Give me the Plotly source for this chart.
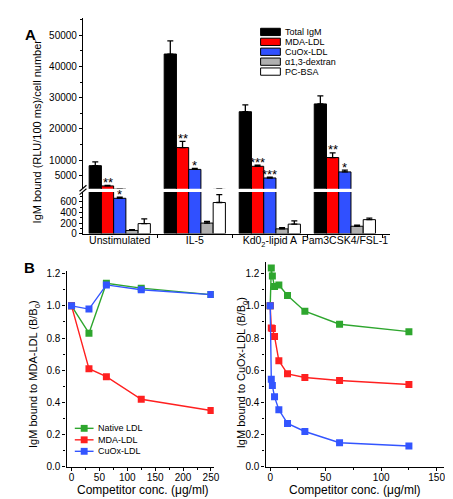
import plotly.graph_objects as go

W, H = 453, 499
FONT = "Liberation Sans, Arial, sans-serif"

# ---- panel A data (broken y axis) ----
categories = ["Unstimulated", "IL-5", "Kd0<sub>2</sub>-lipid A", "Pam3CSK4/FSL-1"]
series_names = ["Total IgM", "MDA-LDL", "CuOx-LDL", "α1,3-dextran", "PC-BSA"]
total_igm = [8200, 44000, 25500, 28000]
total_igm_err = [1200, 4200, 2200, 2600]
mda_ldl = [1700, 14000, 8000, 10800]
mda_ldl_err = [150, 2000, 400, 1500]
cuox_ldl = [670, 7000, 4250, 6200]
cuox_ldl_err = [20, 300, 250, 550]
dextran = [60, 200, 90, 140]
dextran_err = [15, 30, 25, 20]
pc_bsa = [190, 590, 180, 265]
pc_bsa_err = [90, 150, 60, 30]
sig_mda = ["**", "**", "***", "**"]
sig_cuox = ["*", "*", "***", "*"]

# ---- panel B data ----
conc_mda_assay = [0, 31.25, 62.5, 125, 250]
native_mda_assay = [1.0, 0.83, 1.14, 1.11, 1.07]
mda_mda_assay = [1.0, 0.61, 0.56, 0.42, 0.35]
cuox_mda_assay = [1.0, 0.98, 1.13, 1.10, 1.07]

conc_cuox_assay = [0, 0.98, 1.95, 3.9, 7.8, 15.6, 31.25, 62.5, 125]
native_cuox_assay = [1.0, 1.235, 1.185, 1.12, 1.13, 1.065, 0.967, 0.886, 0.84]
mda_cuox_assay = [1.0, 0.863, 0.86, 0.81, 0.66, 0.578, 0.555, 0.537, 0.512]
cuox_cuox_assay = [1.0, 0.545, 0.505, 0.435, 0.355, 0.27, 0.22, 0.15, 0.13]
line_names = ["Native LDL", "MDA-LDL", "CuOx-LDL"]

bar_colors = ["black", "#ff0000", "#3050ff", "#b0b0b0", "white"]
line_colors = ["#2ea62e", "#ff2020", "#3355ff"]

LOW_MAX = 790
HIGH_MIN = 800
BARGAP = 0.184


def px(x):
    return x / W


def py(y):
    return 1 - y / H


fig = go.Figure()

values = [total_igm, mda_ldl, cuox_ldl, dextran, pc_bsa]
errors = [total_igm_err, mda_ldl_err, cuox_ldl_err, dextran_err, pc_bsa_err]
for name, vals, errs, col in zip(series_names, values, errors, bar_colors):
    for yax in ["y", "y2"]:
        fig.add_trace(go.Bar(
            x=categories, y=vals, name=name, xaxis="x", yaxis=yax,
            marker=dict(color=col, line=dict(color="black", width=1)),
            error_y=dict(type="data", array=errs, arrayminus=[0] * len(errs),
                         symmetric=False, color="black", thickness=1.3, width=3),
            showlegend=False,
        ))

# significance stars
bar_w = (1 - BARGAP) / len(series_names)
for i in range(len(categories)):
    for k, vals, errs, sig in [(1, mda_ldl, mda_ldl_err, sig_mda), (2, cuox_ldl, cuox_ldl_err, sig_cuox)]:
        top = vals[i] + errs[i]
        fig.add_annotation(
            x=i + (k - 2) * bar_w, y=top, xref="x",
            yref="y2" if top > HIGH_MIN else "y",
            text=sig[i], showarrow=False, yanchor="middle", yshift=3,
            font=dict(size=13, color="black", family=FONT),
        )

# panel B lines
for name, ys, col in zip(line_names, [native_mda_assay, mda_mda_assay, cuox_mda_assay], line_colors):
    fig.add_trace(go.Scatter(
        x=conc_mda_assay, y=ys, name=name, xaxis="x2", yaxis="y3",
        mode="lines+markers", line=dict(color=col, width=1.4),
        marker=dict(symbol="square", size=7, color=col), showlegend=False,
    ))
for name, ys, col in zip(line_names, [native_cuox_assay, mda_cuox_assay, cuox_cuox_assay], line_colors):
    fig.add_trace(go.Scatter(
        x=conc_cuox_assay, y=ys, name=name, xaxis="x3", yaxis="y4",
        mode="lines+markers", line=dict(color=col, width=1.4),
        marker=dict(symbol="square", size=7, color=col), showlegend=False,
    ))

axis_style = dict(showline=True, linecolor="black", linewidth=1.2, ticks="outside",
                  ticklen=3, tickwidth=1.2, tickcolor="black", showgrid=False,
                  zeroline=False, tickfont=dict(size=10, color="black", family=FONT))
minor_style = dict(ticks="outside", ticklen=2, tickwidth=1, tickcolor="black", showgrid=False)

fig.update_layout(
    width=W, height=H, margin=dict(l=0, r=0, t=0, b=0),
    paper_bgcolor="white", plot_bgcolor="white",
    barmode="group", bargap=BARGAP, bargroupgap=0,
    font=dict(family=FONT, color="black"),
    xaxis=dict(axis_style, domain=[px(76), px(387)], range=[-0.49, 3.6], anchor="y",
               tickson="boundaries", tickangle=0, ticklabelstandoff=-3,
               tickfont=dict(size=10.5, color="black", family=FONT)),
    yaxis=dict(axis_style, domain=[py(226.7), py(184.3)], range=[0, LOW_MAX], anchor="x",
               tickvals=[0, 200, 400, 600], minor=dict(minor_style, dtick=100, tick0=0)),
    yaxis2=dict(axis_style, domain=[py(181), py(7.3)], range=[HIGH_MIN, 55500], anchor="x",
                tickvals=[5000, 10000, 20000, 30000, 40000, 50000], tickformat="d",
                minor=dict(minor_style, dtick=5000, tick0=0)),
    xaxis2=dict(axis_style, domain=[px(59.3), px(208.5)], range=[-9, 255], anchor="y3",
                tickvals=[0, 50, 100, 150, 200, 250], ticklabelstandoff=-2,
                minor=dict(minor_style, dtick=25, tick0=0)),
    yaxis3=dict(axis_style, domain=[py(464.3), py(265)], range=[0, 1.215], anchor="x2",
                dtick=0.2, tickformat=".1f", minor=dict(minor_style, dtick=0.1, tick0=0)),
    xaxis3=dict(axis_style, domain=[px(261), px(441.7)], range=[-4.2, 156.5], anchor="y4",
                tickvals=[0, 50, 100, 150], ticklabelstandoff=-2,
                minor=dict(minor_style, dtick=25, tick0=0)),
    yaxis4=dict(axis_style, domain=[py(464.3), py(256)], range=[0, 1.27], anchor="x3",
                dtick=0.2, tickformat=".1f", minor=dict(minor_style, dtick=0.1, tick0=0)),
)

# axis titles and panel labels
titles = [
    ("IgM bound (RLU/100 ms)/cell number", 29, 123, -90, 11),
    ("IgM bound to MDA-LDL (B/B<sub>0</sub>)", 27, 370, -90, 11),
    ("IgM bound to CuOx-LDL (B/B<sub>0</sub>)", 238, 368, -90, 11),
    ("Competitor conc. (μg/ml)", 137, 488, 0, 12),
    ("Competitor conc. (μg/ml)", 352, 488, 0, 12),
]
for text, tx, ty, ang, size in titles:
    fig.add_annotation(x=px(tx), y=py(ty), xref="paper", yref="paper", text=text,
                       textangle=ang, showarrow=False, xanchor="center", yanchor="middle",
                       font=dict(size=size, color="black", family=FONT))
for text, tx, ty in [("A", 15, 13), ("B", 14, 261)]:
    fig.add_annotation(x=px(tx), y=py(ty), xref="paper", yref="paper", text="<b>%s</b>" % text,
                       showarrow=False, font=dict(size=15, color="black", family=FONT))

# axis break marks
for y0 in [183.5, 187]:
    fig.add_shape(type="line", xref="paper", yref="paper", x0=px(72.5), y0=py(y0),
                  x1=px(79.5), y1=py(y0 - 6), line=dict(color="black", width=1.2))

# legend for panel A
for j, (name, col) in enumerate(zip(series_names, bar_colors)):
    cy = 21.3 + j * 10.1
    fig.add_shape(type="rect", xref="paper", yref="paper", x0=px(256), x1=px(276),
                  y0=py(cy + 3.7), y1=py(cy - 3.7), fillcolor=col,
                  line=dict(color="black", width=1))
    fig.add_annotation(x=px(279), y=py(cy), xref="paper", yref="paper", text=name,
                       showarrow=False, xanchor="left", yanchor="middle",
                       font=dict(size=9, color="black", family=FONT))

# legend for panel B
for j, (name, col) in enumerate(zip(line_names, line_colors)):
    cy = 425 + j * 11.7
    fig.add_shape(type="line", xref="paper", yref="paper", x0=px(67.7), x1=px(86.7),
                  y0=py(cy), y1=py(cy), line=dict(color=col, width=1.4))
    fig.add_shape(type="rect", xref="paper", yref="paper", x0=px(73.7), x1=px(80.7),
                  y0=py(cy + 3.5), y1=py(cy - 3.5), fillcolor=col, line=dict(width=0))
    fig.add_annotation(x=px(89), y=py(cy), xref="paper", yref="paper", text=name,
                       showarrow=False, xanchor="left", yanchor="middle",
                       font=dict(size=9, color="black", family=FONT))

fig.write_html("out.html")
